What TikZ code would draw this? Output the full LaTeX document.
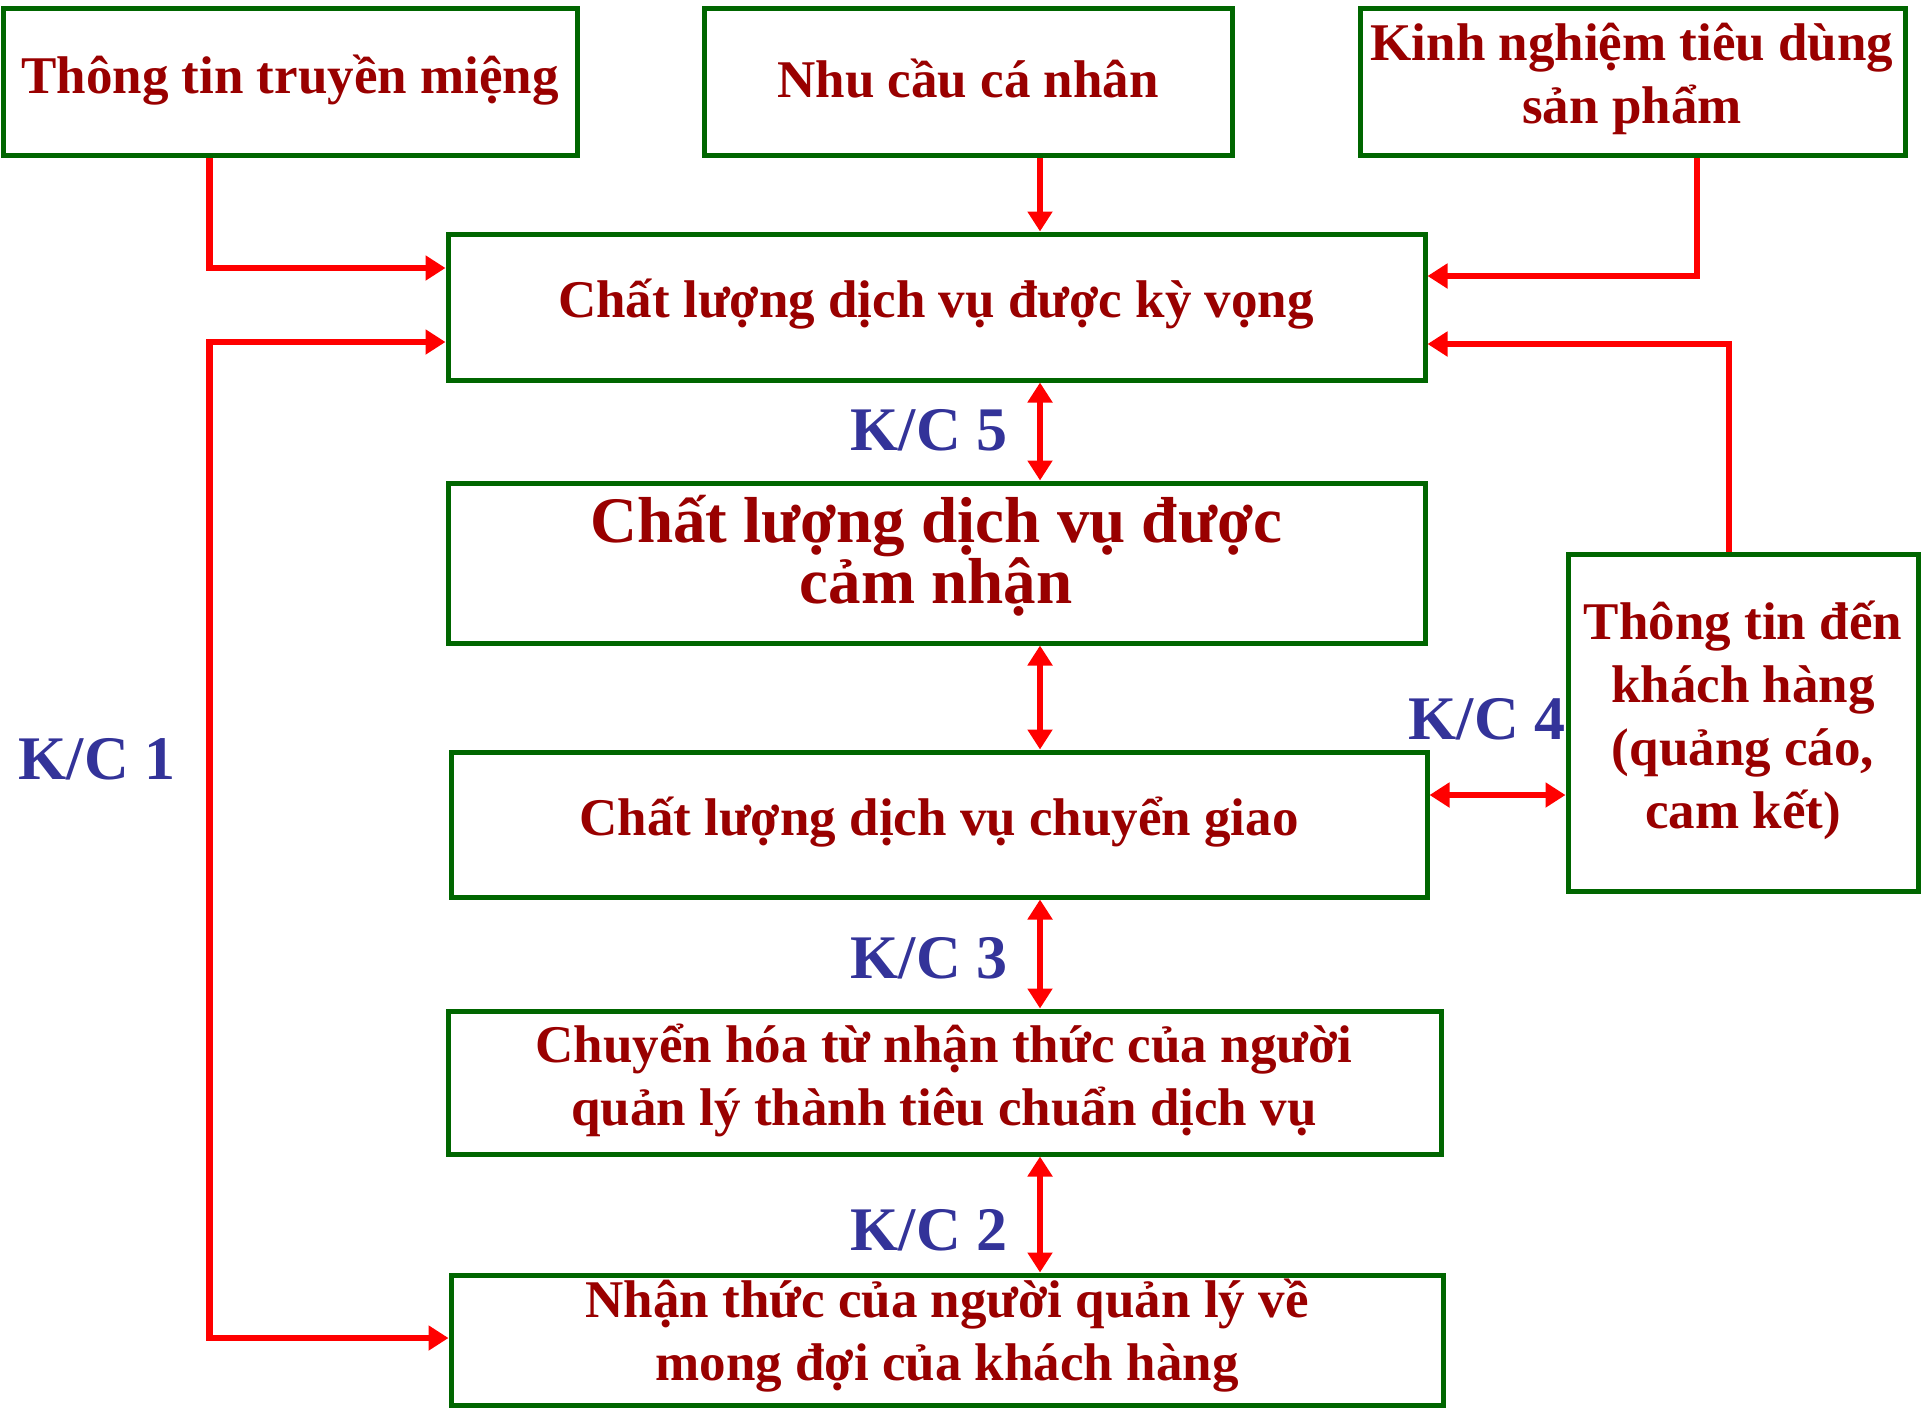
\documentclass[tikz,border=0pt]{standalone}
\usepackage{fontspec}
\setmainfont{Liberation Serif}
\usetikzlibrary{arrows.meta,calc}
\definecolor{boxgreen}{RGB}{0,102,0}
\definecolor{txtred}{RGB}{153,0,0}
\definecolor{arrred}{RGB}{255,0,0}
\definecolor{kcblue}{RGB}{51,51,153}
\tikzset{
  box/.style={draw=boxgreen, line width=5pt, rectangle, inner sep=0pt},
  txt/.style={text=txtred, font=\fontsize{53}{63}\selectfont\bfseries, align=center, inner sep=0pt},
  bigtxt/.style={text=txtred, font=\fontsize{65}{61}\selectfont\bfseries, align=center, inner sep=0pt},
  kc/.style={text=kcblue, font=\fontsize{62}{70}\selectfont\bfseries, inner sep=0pt},
  arr/.style={draw=arrred, line width=6.5pt, -{Triangle[length=20pt,width=24pt]}},
  darr/.style={draw=arrred, line width=6.5pt, {Triangle[length=20pt,width=24pt]}-{Triangle[length=20pt,width=24pt]}}
}
\begin{document}
\begin{tikzpicture}[x=1pt,y=-1pt]
\useasboundingbox (0,0) rectangle (1921,1411);
% boxes
\node[box, minimum width=574pt, minimum height=147pt] (b1) at (290,82) {};
\node[box, minimum width=528pt, minimum height=147pt] (b2) at (968,82) {};
\node[box, minimum width=545pt, minimum height=147pt] (b3) at (1632.5,82) {};
\node[box, minimum width=977pt, minimum height=146pt] (E) at (936.5,307) {};
\node[box, minimum width=977pt, minimum height=160pt] (P) at (936.5,563) {};
\node[box, minimum width=976pt, minimum height=145pt] (D) at (939,824.5) {};
\node[box, minimum width=993pt, minimum height=143pt] (C) at (944.5,1082.5) {};
\node[box, minimum width=992pt, minimum height=130pt] (N) at (947,1340) {};
\node[box, minimum width=350pt, minimum height=337pt] (T) at (1743,722.5) {};
% texts
\node[txt] (t1) at (290,80) {Thông tin truyền miệng};
\node[txt] (t2) at (968,79) {Nhu cầu cá nhân};
\node[txt] (t3) at (1632,79) {Kinh nghiệm tiêu dùng\\sản phẩm};
\node[txt] (tE) at (936,304) {Chất lượng dịch vụ được kỳ vọng};
\node[bigtxt] (tP) at (936,556) {Chất lượng dịch vụ được\\cảm nhận};
\node[txt] (tD) at (939,822) {Chất lượng dịch vụ chuyển giao};
\node[txt] (tC) at (944,1080) {Chuyển hóa từ nhận thức của người\\quản lý thành tiêu chuẩn dịch vụ};
\node[txt] (tN) at (947,1336) {Nhận thức của người quản lý về\\mong đợi của khách hàng};
\node[txt] (tT) at (1743,720) {Thông tin đến\\khách hàng\\(quảng cáo,\\cam kết)};
% K/C labels
\node[kc] (k5) at (929,430) {K/C 5};
\node[kc] (k1) at (97,759) {K/C 1};
\node[kc] (k4) at (1487,719) {K/C 4};
\node[kc] (k3) at (929,958) {K/C 3};
\node[kc] (k2) at (929,1230) {K/C 2};
% coordinates
\coordinate (cx) at (1040,0);
\coordinate (a1) at (209.5,268);
\coordinate (a3) at (1697,276);
\coordinate (a4) at (1729,344);
\coordinate (a5) at (209.5,342);
\coordinate (a6) at (209.5,1338);
\coordinate (a7) at (0,795);
% connectors
\draw[arr] (b1.south -| a1) |- (E.west |- a1);
\draw[arr] (b2.south -| cx) -- (E.north -| cx);
\draw[arr] (b3.south -| a3) |- (E.east |- a3);
\draw[arr] (T.north -| a4) |- (E.east |- a4);
\draw[darr] (E.west |- a5) -- (a5) -- (a6) -- (N.west |- a6);
\draw[darr] (E.south -| cx) -- (P.north -| cx);
\draw[darr] (P.south -| cx) -- (D.north -| cx);
\draw[darr] (D.south -| cx) -- (C.north -| cx);
\draw[darr] (C.south -| cx) -- (N.north -| cx);
\draw[darr] (D.east |- a7) -- (T.west |- a7);
\end{tikzpicture}
\end{document}
